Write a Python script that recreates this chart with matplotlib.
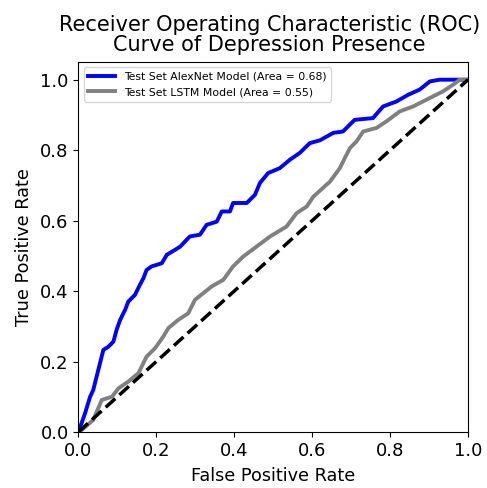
import matplotlib
matplotlib.use("Agg")
import matplotlib.pyplot as plt

alex_fpr = [0.0, 0.002, 0.017, 0.030, 0.038, 0.051, 0.064, 0.077, 0.090, 0.098, 0.107, 0.120, 0.128,
            0.145, 0.158, 0.167, 0.175, 0.188, 0.214, 0.227, 0.248, 0.261, 0.286, 0.312, 0.329,
            0.355, 0.368, 0.389, 0.397, 0.432, 0.453, 0.466, 0.487, 0.517, 0.543, 0.568, 0.594,
            0.620, 0.654, 0.679, 0.709, 0.756, 0.782, 0.816, 0.846, 0.876, 0.902, 0.927, 0.970, 1.0]
alex_tpr = [0.0, 0.006, 0.053, 0.100, 0.119, 0.176, 0.233, 0.242, 0.257, 0.290, 0.318, 0.347, 0.370,
            0.389, 0.418, 0.437, 0.460, 0.470, 0.479, 0.503, 0.517, 0.526, 0.555, 0.560, 0.588,
            0.597, 0.626, 0.626, 0.650, 0.650, 0.673, 0.707, 0.735, 0.749, 0.773, 0.792, 0.820,
            0.828, 0.849, 0.853, 0.886, 0.891, 0.924, 0.938, 0.957, 0.972, 0.995, 1.0, 1.0, 1.0]

lstm_fpr = [0.0, 0.009, 0.038, 0.060, 0.086, 0.103, 0.128, 0.154, 0.175, 0.197, 0.218, 0.231, 0.256,
            0.282, 0.299, 0.342, 0.372, 0.397, 0.423, 0.457, 0.492, 0.534, 0.560, 0.586, 0.603,
            0.620, 0.646, 0.671, 0.684, 0.697, 0.714, 0.731, 0.765, 0.791, 0.825, 0.859, 0.902,
            0.936, 0.962, 0.979, 1.0]
lstm_tpr = [0.0, 0.006, 0.034, 0.091, 0.100, 0.124, 0.143, 0.167, 0.214, 0.238, 0.271, 0.295, 0.318,
            0.337, 0.375, 0.413, 0.432, 0.470, 0.498, 0.526, 0.555, 0.583, 0.621, 0.640, 0.668,
            0.685, 0.711, 0.749, 0.778, 0.806, 0.825, 0.853, 0.863, 0.882, 0.910, 0.924, 0.948,
            0.967, 0.986, 1.0, 1.0]

alex_auc = 0.68
lstm_auc = 0.55

fig = plt.figure(figsize=(4.87, 4.88), dpi=100)
ax = fig.add_axes([0.161, 0.1148, 0.800, 0.758])
ax.plot(alex_fpr, alex_tpr, color="blue", lw=2.8,
        label=f"Test Set AlexNet Model (Area = {alex_auc:.2f})")
ax.plot(lstm_fpr, lstm_tpr, color="gray", lw=2.8,
        label=f"Test Set LSTM Model (Area = {lstm_auc:.2f})")
ax.plot([0, 1], [0, 1], color="black", lw=2.5, linestyle="--")
ax.set_xlim(0.0, 1.0)
ax.set_ylim(0.0, 1.05)
ax.set_xlabel("False Positive Rate", fontsize=12.7, labelpad=5)
ax.set_ylabel("True Positive Rate", fontsize=12.7, labelpad=5)
ax.set_title("Receiver Operating Characteristic (ROC)\nCurve of Depression Presence",
             fontsize=15.0, pad=8, linespacing=1.0, x=0.49)
ax.tick_params(labelsize=13)
ax.legend(loc="upper left", fontsize=7.8, handlelength=2.5)
fig.savefig("out.png", dpi=100)
